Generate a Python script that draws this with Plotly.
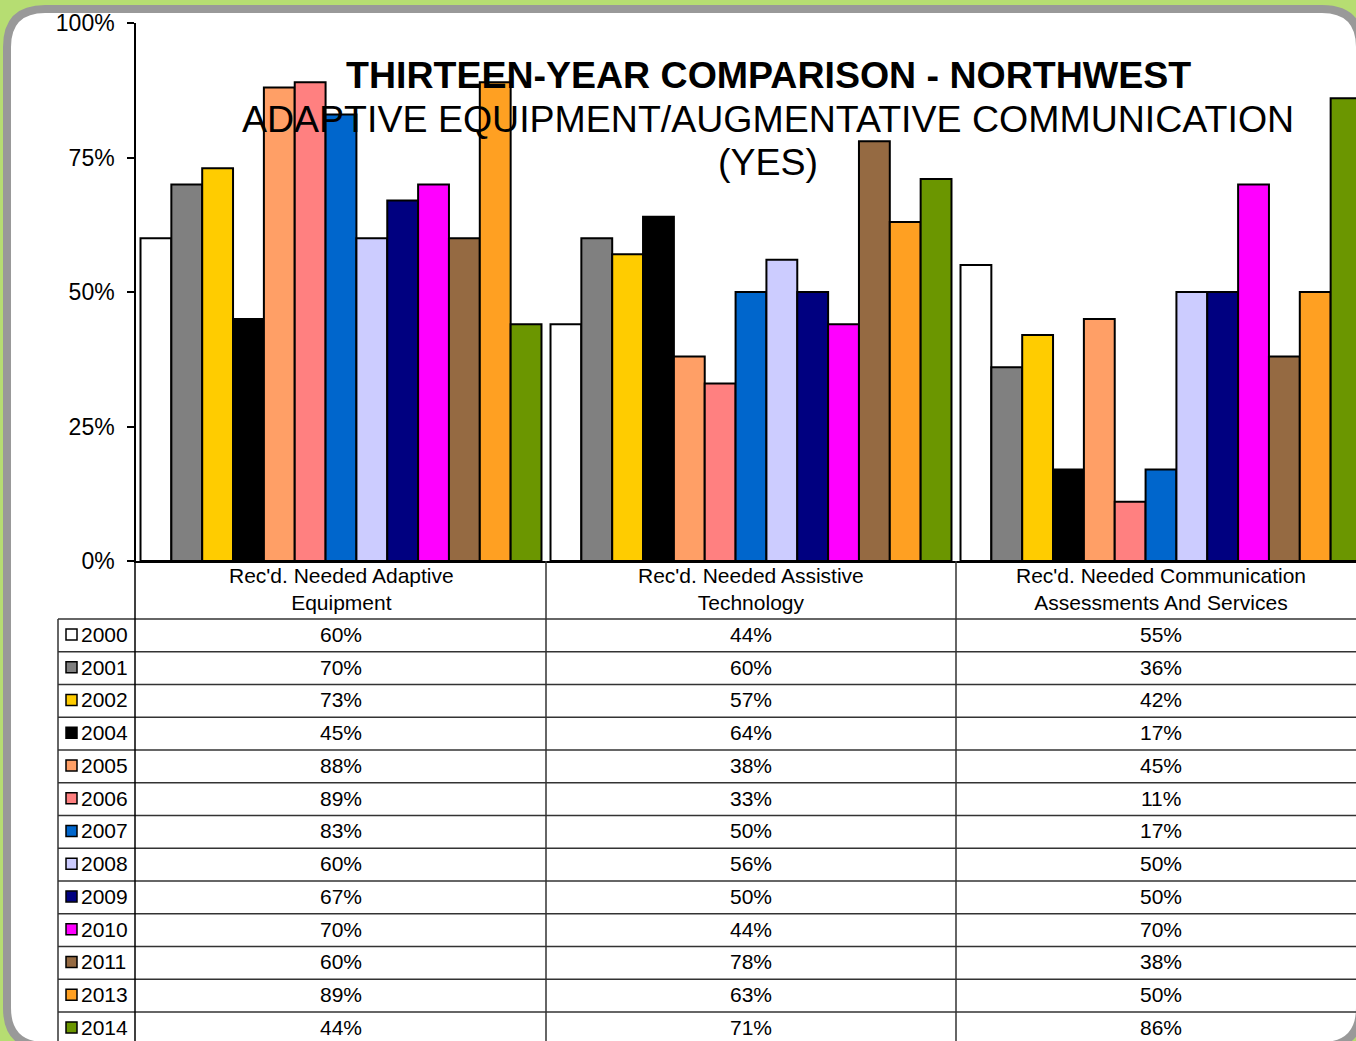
import plotly.graph_objects as go

categories = ["Rec'd. Needed Adaptive<br>Equipment",
              "Rec'd. Needed Assistive<br>Technology",
              "Rec'd. Needed Communication<br>Assessments And Services"]
years = ["2000", "2001", "2002", "2004", "2005", "2006", "2007",
         "2008", "2009", "2010", "2011", "2013", "2014"]
values = {
    "2000": [60, 44, 55],
    "2001": [70, 60, 36],
    "2002": [73, 57, 42],
    "2004": [45, 64, 17],
    "2005": [88, 38, 45],
    "2006": [89, 33, 11],
    "2007": [83, 50, 17],
    "2008": [60, 56, 50],
    "2009": [67, 50, 50],
    "2010": [70, 44, 70],
    "2011": [60, 78, 38],
    "2013": [89, 63, 50],
    "2014": [44, 71, 86],
}
colors = ["#FFFFFF", "#808080", "#FFCC00", "#000000", "#FF9F66", "#FF8080", "#0066CC",
          "#CCCCFF", "#000080", "#FF00FF", "#956A42", "#FFA022", "#6B9600"]
y_ticks = [0, 25, 50, 75, 100]
y_tick_text = ["0%", "25%", "50%", "75%", "100%"]

FONT = "Arial, Liberation Sans, sans-serif"
W, H = 1356, 1041
L, T, B = 136, 23, 561          # plot area in pixels
PW, PH = W - L, B - T


def px(x):
    return (x - L) / PW


def py(y):
    return (B - y) / PH


fig = go.Figure()
for yr, col in zip(years, colors):
    fig.add_trace(go.Bar(
        x=[0, 1, 2], y=values[yr], name=yr,
        marker=dict(color=col, line=dict(color="black", width=2)),
        showlegend=False,
    ))

shapes = []
# rounded white panel with gray border
r = 38
x0, y0, x1, y1 = 7, 9, 1360, 1046
pts = f"M {px(x0 + r)},{py(y0)} L {px(x1 - r)},{py(y0)} Q {px(x1)},{py(y0)} {px(x1)},{py(y0 + r)} " \
      f"L {px(x1)},{py(y1 - r)} Q {px(x1)},{py(y1)} {px(x1 - r)},{py(y1)} " \
      f"L {px(x0 + r)},{py(y1)} Q {px(x0)},{py(y1)} {px(x0)},{py(y1 - r)} " \
      f"L {px(x0)},{py(y0 + r)} Q {px(x0)},{py(y0)} {px(x0 + r)},{py(y0)} Z"
shapes.append(dict(type="path", xref="paper", yref="paper", path=pts,
                   fillcolor="white", line=dict(color="#999999", width=8), layer="below"))

# data table grid
row_top = 619
row_h = 32.75
line_c = "#333333"
for i in range(len(years) + 1):
    yy = row_top + i * row_h
    shapes.append(dict(type="line", xref="paper", yref="paper",
                       x0=px(58), x1=px(W + 20), y0=py(yy), y1=py(yy),
                       line=dict(color=line_c, width=1.5)))
shapes.append(dict(type="line", xref="paper", yref="paper",
                   x0=px(58), x1=px(58), y0=py(row_top), y1=py(H + 10),
                   line=dict(color=line_c, width=1.5)))
for xx in [135, 546, 956]:
    shapes.append(dict(type="line", xref="paper", yref="paper",
                       x0=px(xx), x1=px(xx), y0=py(B), y1=py(H + 10),
                       line=dict(color="black" if xx == 135 else line_c, width=1.5)))

annotations = []
for k, cat in enumerate(categories):
    annotations.append(dict(x=k, y=py(589), xref="x", yref="paper", text=cat,
                            showarrow=False, font=dict(size=21, color="black", family=FONT),
                            xanchor="center", yanchor="middle"))

for i, (yr, col) in enumerate(zip(years, colors)):
    yc = row_top + (i + 0.5) * row_h - 1
    shapes.append(dict(type="rect", xref="paper", yref="paper",
                       x0=px(66), x1=px(77), y0=py(yc - 5.5), y1=py(yc + 5.5),
                       fillcolor=col, line=dict(color="black", width=1.5)))
    annotations.append(dict(x=px(79), y=py(yc), xref="paper", yref="paper", text=yr,
                            showarrow=False, xanchor="left", yanchor="middle",
                            font=dict(size=21, color="black", family=FONT)))
    for k, v in enumerate(values[yr]):
        annotations.append(dict(x=k, y=py(yc), xref="x", yref="paper", text=f"{v}%",
                                showarrow=False, xanchor="center", yanchor="middle",
                                font=dict(size=21, color="black", family=FONT)))

annotations += [
    dict(x=px(768), y=py(75), xref="paper", yref="paper",
         text="<b>THIRTEEN-YEAR COMPARISON - NORTHWEST</b>", showarrow=False,
         font=dict(size=37.5, color="black", family=FONT), yanchor="middle"),
    dict(x=px(768), y=py(119), xref="paper", yref="paper",
         text="ADAPTIVE EQUIPMENT/AUGMENTATIVE COMMUNICATION", showarrow=False,
         font=dict(size=37.5, color="black", family=FONT), yanchor="middle"),
    dict(x=px(768), y=py(162), xref="paper", yref="paper",
         text="(YES)", showarrow=False,
         font=dict(size=37.5, color="black", family=FONT), yanchor="middle"),
]

fig.update_layout(
    width=W, height=H,
    margin=dict(l=L, r=0, t=T, b=H - B, pad=0),
    paper_bgcolor="#B6DD72",
    plot_bgcolor="rgba(0,0,0,0)",
    barmode="group", bargap=0.022, bargroupgap=0,
    font=dict(family=FONT, color="black"),
    xaxis=dict(range=[-0.5, -0.5 + PW / 410], showticklabels=False, showgrid=False,
               zeroline=False, showline=True, linecolor="black", linewidth=2, ticks=""),
    yaxis=dict(range=[0, 100], tickmode="array", tickvals=y_ticks, ticktext=y_tick_text,
               showgrid=False, zeroline=False, showline=True, linecolor="black", linewidth=1.5,
               ticks="outside", ticklen=7, tickcolor="black", tickwidth=1.5,
               tickfont=dict(size=23, family=FONT, color="black"), ticklabelstandoff=8),
    shapes=shapes,
    annotations=annotations,
)

fig.write_html("out.html", config={"displayModeBar": False},
               post_script="document.body.style.margin='0';")
